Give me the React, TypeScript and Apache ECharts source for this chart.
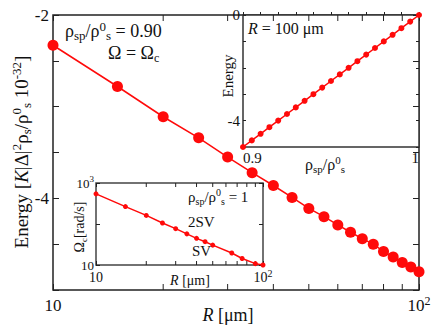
import React, { useEffect, useRef } from 'react';
import * as echarts from 'echarts';

// Main panel: energy vs R (rho_sp/rho0_s = 0.90, Omega = Omega_c)
const mainR = [10, 15, 20, 25, 30, 35, 40, 45, 50, 55, 60, 65, 70, 75, 80, 85, 90, 95, 100];
const mainEnergy = [-2.33, -2.78, -3.11, -3.34, -3.55, -3.72, -3.86, -3.99, -4.11, -4.2, -4.29, -4.37, -4.44, -4.5, -4.58, -4.64, -4.7, -4.75, -4.8];

// Top-right inset: energy vs rho_sp/rho0_s at R = 100 um
const rhoRatio = [0.9, 0.905, 0.91, 0.915, 0.92, 0.925, 0.93, 0.935, 0.94, 0.945, 0.95, 0.955, 0.96, 0.965, 0.97, 0.975, 0.98, 0.985, 0.99, 0.995, 1.0];
const insetEnergy = [-5, -4.75, -4.5, -4.25, -4.0, -3.75, -3.5, -3.25, -3.0, -2.75, -2.5, -2.25, -2.0, -1.75, -1.5, -1.25, -1.0, -0.75, -0.5, -0.25, 0];

// Bottom-left inset: Omega_c vs R
const omegaR = [10, 15, 20, 25, 30, 35, 40, 45, 50, 65, 75, 90, 100];
const omegaC = [543, 266, 162, 106, 77, 57.5, 44.7, 37, 30.5, 19.6, 14.4, 10.8, 10];

const logMinorTicks = [20, 30, 40, 50, 60, 70, 80, 90];
const mainYLabels = [-2, -4];
const inset1YLabels = [0, -4];
const inset1XLabels = [0.9, 1];

const FAMILY = "'Liberation Serif', 'Times New Roman', serif";
const RED = '#ff0a0a';
const FRAME = '#222';
const INK = '#111';

function fnt(size: number, italic = false) {
  return `${italic ? 'italic ' : ''}${size}px ${FAMILY}`;
}

function richSet(base: number, small: number) {
  return {
    n: { font: fnt(base), fontSize: base, fontFamily: FAMILY, lineHeight: base + 4, color: INK, fill: INK },
    i: { font: fnt(base, true), fontSize: base, fontFamily: FAMILY, fontStyle: 'italic', lineHeight: base + 4, color: INK, fill: INK },
    sub: { font: fnt(small), fontSize: small, fontFamily: FAMILY, lineHeight: small, verticalAlign: 'bottom', color: INK, fill: INK },
    sup: { font: fnt(small), fontSize: small, fontFamily: FAMILY, lineHeight: small, verticalAlign: 'top', color: INK, fill: INK },
  };
}

function richText(x: number, y: number, text: string, base: number, small: number, align: string, rotate = false) {
  return {
    type: 'text', x, y, z: 10,
    rotation: rotate ? Math.PI / 2 : 0,
    style: {
      text, rich: richSet(base, small), align, verticalAlign: 'middle',
      font: fnt(base), fontSize: base, fontFamily: FAMILY, fill: INK,
    },
  };
}

function near(v: number, list: number[]) {
  return list.some((a) => Math.abs(a - v) < 1e-6);
}

function minorTickSeries(xIdx: number, yIdx: number, yMin: number, yMax: number, len: number) {
  return {
    type: 'custom',
    xAxisIndex: xIdx,
    yAxisIndex: yIdx,
    silent: true,
    data: logMinorTicks.map((v) => [v]),
    renderItem: (_p: any, api: any) => {
      const v = api.value(0);
      const b = api.coord([v, yMin]);
      const t = api.coord([v, yMax]);
      return {
        type: 'group',
        children: [
          { type: 'line', shape: { x1: b[0], y1: b[1], x2: b[0], y2: b[1] - len }, style: { stroke: FRAME, lineWidth: 1 } },
          { type: 'line', shape: { x1: t[0], y1: t[1], x2: t[0], y2: t[1] + len }, style: { stroke: FRAME, lineWidth: 1 } },
        ],
      };
    },
  };
}

export default function App() {
  const ref = useRef<HTMLDivElement>(null);
  useEffect(() => {
    if (!ref.current) return;
    const chart = echarts.init(ref.current, undefined, { renderer: 'svg' });
    const tickStyle = { color: FRAME, width: 1 };
    const option: any = {
      animation: false,
      backgroundColor: '#fff',
      textStyle: { fontFamily: FAMILY },
      grid: [
        { left: 53, top: 15, width: 366, height: 275, show: true, borderColor: FRAME, borderWidth: 1.5, backgroundColor: 'transparent' },
        { left: 243, top: 15, width: 176, height: 132, show: true, borderColor: '#333', borderWidth: 1.5, backgroundColor: '#fff' },
        { left: 96, top: 183, width: 167, height: 82, show: true, borderColor: '#444', borderWidth: 1.5, backgroundColor: '#fff' },
      ],
      xAxis: [
        {
          type: 'log', logBase: 10, gridIndex: 0, min: 10, max: 100,
          axisLine: { show: false }, splitLine: { show: false },
          axisTick: { inside: true, length: 6, lineStyle: tickStyle },
          axisLabel: {
            margin: 5, fontFamily: FAMILY, fontSize: 17,
            formatter: (v: number) => (v >= 99 ? '{n|10}{sup|2}' : '{n|10}'),
            rich: richSet(17, 12),
          },
        },
        {
          type: 'log', logBase: 10, gridIndex: 0, min: 10, max: 100, position: 'top',
          axisLine: { show: false }, splitLine: { show: false },
          axisTick: { inside: true, length: 6, lineStyle: tickStyle },
          axisLabel: { show: false },
        },
        {
          type: 'value', gridIndex: 1, min: 0.9, max: 1, interval: 0.01,
          axisLine: { show: false }, splitLine: { show: false },
          axisTick: { inside: true, length: 3, lineStyle: tickStyle },
          axisLabel: {
            margin: 3, fontSize: 15, color: INK, fontFamily: FAMILY,
            alignMinLabel: 'left', alignMaxLabel: 'right',
            formatter: (v: number) => (near(v, inset1XLabels) ? (Math.abs(v - 1) < 1e-6 ? '1' : '0.9') : ''),
          },
        },
        {
          type: 'log', logBase: 10, gridIndex: 2, min: 10, max: 100,
          axisLine: { show: false }, splitLine: { show: false },
          axisTick: { inside: true, length: 4, lineStyle: tickStyle },
          axisLabel: {
            margin: 3, fontFamily: FAMILY, fontSize: 14,
            formatter: (v: number) => (v >= 99 ? '{n|10}{sup|2}' : '{n|10}'),
            rich: richSet(14, 10),
          },
        },
        {
          type: 'log', logBase: 10, gridIndex: 2, min: 10, max: 100, position: 'top',
          axisLine: { show: false }, splitLine: { show: false },
          axisTick: { inside: true, length: 4, lineStyle: tickStyle },
          axisLabel: { show: false },
        },
      ],
      yAxis: [
        {
          type: 'value', gridIndex: 0, min: -5, max: -2, interval: 0.5,
          axisLine: { show: false }, splitLine: { show: false },
          axisTick: { inside: true, length: 6, lineStyle: tickStyle },
          axisLabel: {
            margin: 4, fontSize: 17, color: INK, fontFamily: FAMILY,
            formatter: (v: number) => (near(v, mainYLabels) ? String(v) : ''),
          },
        },
        {
          type: 'value', gridIndex: 0, min: -5, max: -2, interval: 0.5, position: 'right',
          axisLine: { show: false }, splitLine: { show: false },
          axisTick: { inside: true, length: 6, lineStyle: tickStyle },
          axisLabel: { show: false },
        },
        {
          type: 'value', gridIndex: 1, min: -5, max: 0, interval: 1,
          axisLine: { show: false }, splitLine: { show: false },
          axisTick: { inside: true, length: 3, lineStyle: tickStyle },
          axisLabel: {
            margin: 3, fontSize: 15, color: INK, fontFamily: FAMILY,
            formatter: (v: number) => (near(v, inset1YLabels) ? String(v) : ''),
          },
        },
        {
          type: 'value', gridIndex: 1, min: -5, max: 0, interval: 1, position: 'right',
          axisLine: { show: false }, splitLine: { show: false },
          axisTick: { inside: true, length: 3, lineStyle: tickStyle },
          axisLabel: { show: false },
        },
        {
          type: 'log', logBase: 10, gridIndex: 2, min: 10, max: 1000,
          axisLine: { show: false }, splitLine: { show: false },
          axisTick: { inside: true, length: 4, lineStyle: tickStyle },
          axisLabel: {
            margin: 2, fontFamily: FAMILY, fontSize: 13,
            formatter: (v: number) => (v >= 999 ? '{n|10}{sup|3}' : v <= 10.01 ? '{n|10}' : ''),
            rich: richSet(13, 9),
          },
        },
        {
          type: 'log', logBase: 10, gridIndex: 2, min: 10, max: 1000, position: 'right',
          axisLine: { show: false }, splitLine: { show: false },
          axisTick: { inside: true, length: 4, lineStyle: tickStyle },
          axisLabel: { show: false },
        },
      ],
      series: [
        {
          type: 'line', xAxisIndex: 0, yAxisIndex: 0,
          data: mainR.map((r, i) => [r, mainEnergy[i]]),
          symbol: 'circle', symbolSize: 11,
          itemStyle: { color: RED },
          lineStyle: { color: RED, width: 1.5 },
          clip: false, z: 3,
        },
        {
          type: 'line', xAxisIndex: 2, yAxisIndex: 2,
          data: rhoRatio.map((r, i) => [r, insetEnergy[i]]),
          symbol: 'circle', symbolSize: 6,
          itemStyle: { color: RED },
          lineStyle: { color: RED, width: 1.5 },
          clip: false, z: 3,
        },
        {
          type: 'line', xAxisIndex: 3, yAxisIndex: 4,
          data: omegaR.map((r, i) => [r, omegaC[i]]),
          symbol: 'circle', symbolSize: 5,
          itemStyle: { color: RED },
          lineStyle: { color: RED, width: 1.5 },
          clip: false, z: 3,
        },
        minorTickSeries(0, 0, -5, -2, 6),
        minorTickSeries(3, 4, 10, 1000, 4),
      ],
      graphic: [
        richText(21, 152, '{n|Energy [}{i|K}{n||Δ|}{sup|2}{n|ρ}{sub|s}{n|/ρ}{sup|0}{sub|s}{n| 10}{sup|-32}{n|]}', 19, 13, 'center', true),
        richText(228, 315, '{i|R}{n| [μm]}', 18, 12, 'center'),
        richText(65, 31, '{n|ρ}{sub|sp}{n|/ρ}{sup|0}{sub|s}{n| = 0.90}', 18, 13, 'left'),
        richText(108, 53, '{n|Ω = Ω}{sub|c}', 18, 12, 'left'),
        richText(248, 28, '{i|R}{n| = 100 μm}', 16, 11, 'left'),
        richText(228, 76, '{n|Energy}', 15, 10, 'center', true),
        richText(325, 164, '{n|ρ}{sub|sp}{n|/ρ}{sup|0}{sub|s}', 16, 11, 'center'),
        richText(79, 227, '{n|Ω}{sub|c}{n|[rad/s]}', 14, 9, 'center', true),
        richText(190, 280, '{i|R}{n| [μm]}', 14, 10, 'center'),
        richText(188, 197, '{n|ρ}{sub|sp}{n|/ρ}{sup|0}{sub|s}{n| = 1}', 15, 10, 'left'),
        richText(188, 222, '{n|2SV}', 15, 10, 'left'),
        richText(192, 251, '{n|SV}', 15, 10, 'left'),
      ],
    };
    chart.setOption(option);
    return () => chart.dispose();
  }, []);
  return <div ref={ref} style={{ position: 'fixed', left: 0, top: 0, width: 436, height: 331 }} />;
}
